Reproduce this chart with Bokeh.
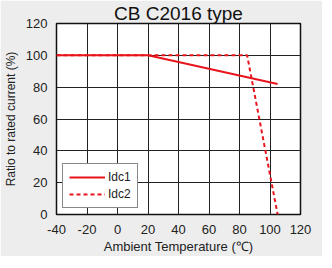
from bokeh.plotting import figure
from bokeh.models import Range1d, FixedTicker, Legend, LegendItem
from bokeh.embed import file_html
from bokeh.resources import INLINE

title = "CB C2016 type"
x_label = "Ambient Temperature (\u2103)"
y_label = "Ratio to rated current (%)"

idc1_temp = [-40, 20, 105]
idc1_ratio = [100, 100, 82]
idc2_temp = [-40, 20, 85, 105]
idc2_ratio = [100, 100, 100, 0]

x_ticks = [-40, -20, 0, 20, 40, 60, 80, 100, 120]
y_ticks = [0, 20, 40, 60, 80, 100, 120]

FONT = "Liberation Sans"
BG = "#ededed"

p = figure(width=322, height=256, output_backend="svg", toolbar_location=None,
           x_range=Range1d(-40, 120), y_range=Range1d(0, 120),
           min_border_left=50, min_border_right=22, min_border_top=18, min_border_bottom=37,
           background_fill_color="white", border_fill_color=BG)

p.title.text = title
p.title.align = "center"
p.title.text_font = FONT
p.title.text_font_size = "19px"
p.title.text_font_style = "normal"
p.title.text_color = "#111111"
p.title.standoff = 0
p.title.offset = 0

for ax, ticks in ((p.xaxis, x_ticks), (p.yaxis, y_ticks)):
    ax.ticker = FixedTicker(ticks=ticks)
    ax.major_label_overrides = {t: str(t) for t in ticks}
    ax.major_tick_line_color = None
    ax.minor_tick_line_color = None
    ax.axis_line_color = None
    ax.major_label_text_font = FONT
    ax.major_label_text_font_size = "13px"
    ax.major_label_text_color = "#222222"
    ax.axis_label_text_font = FONT
    ax.axis_label_text_font_style = "normal"
    ax.axis_label_text_color = "#222222"

p.xaxis.axis_label = x_label
p.yaxis.axis_label = y_label
p.xaxis.axis_label_text_font_size = "13px"
p.yaxis.axis_label_text_font_size = "12px"
p.xaxis.major_label_standoff = 4
p.yaxis.major_label_standoff = 3
p.xaxis.axis_label_standoff = 2
p.yaxis.axis_label_standoff = 5

p.xgrid.ticker = FixedTicker(ticks=x_ticks)
p.ygrid.ticker = FixedTicker(ticks=y_ticks)
p.grid.grid_line_color = "#222222"
p.grid.grid_line_width = 1
p.grid.grid_line_alpha = 1
p.outline_line_color = "#111111"
p.outline_line_width = 1.5

r2 = p.line(idc2_temp, idc2_ratio, line_color="#e8141c", line_width=2, line_dash="4 3")
r1 = p.line(idc1_temp, idc1_ratio, line_color="#e8141c", line_width=2)

legend = Legend(items=[LegendItem(label="Idc1", renderers=[r1]),
                       LegendItem(label="Idc2", renderers=[r2])],
                location="bottom_left")
legend.label_text_font = FONT
legend.label_text_font_size = "12px"
legend.label_text_color = "#222222"
legend.border_line_color = "#111111"
legend.border_line_width = 1
legend.background_fill_color = "white"
legend.background_fill_alpha = 1
legend.glyph_width = 36
legend.glyph_height = 10
legend.label_height = 10
legend.spacing = 3
legend.padding = 6
legend.margin = 6
legend.label_standoff = 3
p.add_layout(legend, "center")

open("out.html", "w").write(file_html(p, INLINE))
